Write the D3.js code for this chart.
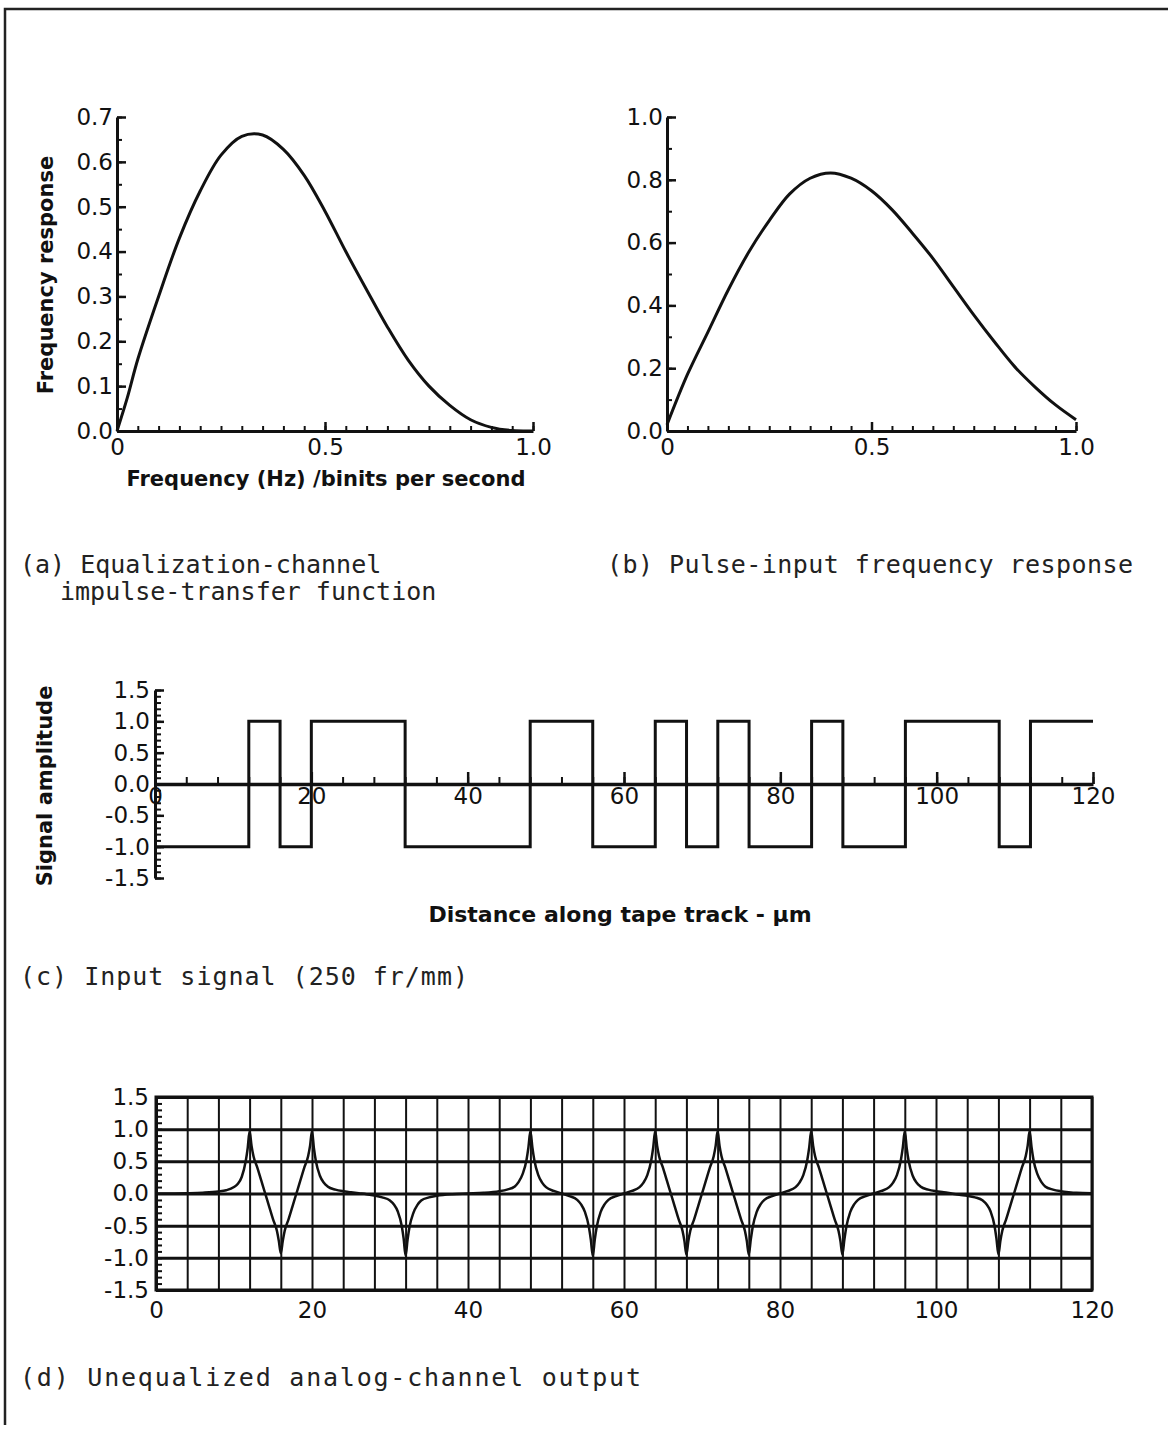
<!DOCTYPE html>
<html>
<head>
<meta charset="utf-8">
<script src="https://cdn.jsdelivr.net/npm/d3@7"></script>
<style>
  body { margin: 0; background: #fff; }
  .tick text { font-family: "DejaVu Sans", sans-serif; font-size: 23px; fill: #111; }
  .title { font-family: "DejaVu Sans", sans-serif; font-weight: bold; font-size: 21px; fill: #111; }
  .caption { font-family: "DejaVu Sans Mono", monospace; font-size: 25px; fill: #222; }
</style>
</head>
<body>
<svg id="chart" width="1168" height="1430"></svg>
<script>
// (a) equalization-channel impulse-transfer function
var freqA = [0, 0.025, 0.05, 0.1, 0.15, 0.2, 0.25, 0.3, 0.35, 0.4, 0.45, 0.5, 0.55,
             0.6, 0.65, 0.7, 0.75, 0.8, 0.85, 0.9, 0.95, 1.0];
var respA = [0, 0.075, 0.16, 0.3, 0.43, 0.535, 0.615, 0.657, 0.66, 0.628, 0.57, 0.49, 0.4,
             0.315, 0.232, 0.158, 0.1, 0.057, 0.025, 0.008, 0.001, 0];

// (b) pulse-input frequency response
var freqB = [0, 0.05, 0.1, 0.15, 0.2, 0.25, 0.3, 0.35, 0.4, 0.45, 0.5, 0.55, 0.6,
             0.65, 0.7, 0.75, 0.8, 0.85, 0.9, 0.95, 1.0];
var respB = [0.02, 0.18, 0.315, 0.45, 0.57, 0.67, 0.755, 0.805, 0.822, 0.805, 0.765, 0.705, 0.63,
             0.55, 0.46, 0.37, 0.285, 0.205, 0.14, 0.083, 0.036];

// (c) input signal, level changes along the track
var stepX = [0, 12, 16, 20, 32, 48, 56, 64, 68, 72, 76, 84, 88, 96, 108, 112, 120];
var stepY = [-1, 1, -1, 1, -1, 1, -1, 1, -1, 1, -1, 1, -1, 1, -1, 1, 1];

// (d) unequalized analog-channel output, [distance, amplitude]
var outPts = [
  [0,0],[4,0.005],[6,0.012],[8,0.03],[9,0.05],[10,0.1],[10.5,0.15],[11,0.26],[11.5,0.5],[11.75,0.7],[12,0.97],
  [12.25,0.74],[12.5,0.58],[13,0.4],[13.5,0.2],[14,0],[14.5,-0.2],[15,-0.4],[15.5,-0.58],[15.75,-0.74],[16,-0.93],
  [16.25,-0.74],[16.5,-0.58],[17,-0.4],[17.5,-0.2],[18,0],[18.5,0.2],[19,0.4],[19.5,0.58],[19.75,0.74],[20,0.97],
  [20.25,0.7],[20.5,0.5],[21,0.28],[21.5,0.17],[22,0.11],[23,0.06],[24,0.035],[25,0.02],[26,0.005],[27,-0.01],
  [28,-0.03],[29,-0.06],[30,-0.11],[30.5,-0.17],[31,-0.28],[31.5,-0.5],[31.75,-0.7],[32,-0.97],
  [32.25,-0.72],[32.5,-0.52],[33,-0.3],[33.5,-0.18],[34,-0.11],[35,-0.06],[36,-0.035],[38,-0.01],[40,0],
  [42,0.01],[44,0.035],[45,0.06],[46,0.11],[46.5,0.18],[47,0.3],[47.5,0.52],[47.75,0.72],[48,0.97],
  [48.25,0.72],[48.5,0.52],[49,0.29],[49.5,0.17],[50,0.1],[51,0.04],[52,0],[53,-0.04],[54,-0.1],[54.5,-0.17],
  [55,-0.29],[55.5,-0.52],[55.75,-0.72],[56,-0.97],
  [56.25,-0.72],[56.5,-0.52],[57,-0.29],[57.5,-0.17],[58,-0.1],[59,-0.04],[60,0],[61,0.04],[62,0.1],[62.5,0.17],
  [63,0.29],[63.5,0.52],[63.75,0.72],[64,0.97],
  [64.25,0.74],[64.5,0.58],[65,0.4],[65.5,0.2],[66,0],[66.5,-0.2],[67,-0.4],[67.5,-0.58],[67.75,-0.74],[68,-0.95],
  [68.25,-0.74],[68.5,-0.58],[69,-0.4],[69.5,-0.2],[70,0],[70.5,0.2],[71,0.4],[71.5,0.58],[71.75,0.74],[72,0.97],
  [72.25,0.74],[72.5,0.58],[73,0.4],[73.5,0.2],[74,0],[74.5,-0.2],[75,-0.4],[75.5,-0.58],[75.75,-0.74],[76,-0.95],
  [76.25,-0.72],[76.5,-0.52],[77,-0.29],[77.5,-0.17],[78,-0.1],[79,-0.04],[80,0],[81,0.04],[82,0.1],[82.5,0.17],
  [83,0.29],[83.5,0.52],[83.75,0.72],[84,0.97],
  [84.25,0.74],[84.5,0.58],[85,0.4],[85.5,0.2],[86,0],[86.5,-0.2],[87,-0.4],[87.5,-0.58],[87.75,-0.74],[88,-0.95],
  [88.25,-0.72],[88.5,-0.52],[89,-0.29],[89.5,-0.17],[90,-0.1],[91,-0.04],[92,0],[93,0.04],[94,0.1],[94.5,0.17],
  [95,0.29],[95.5,0.52],[95.75,0.72],[96,0.97],
  [96.25,0.7],[96.5,0.5],[97,0.28],[97.5,0.17],[98,0.11],[99,0.06],[100,0.035],[101,0.02],[102,0],[103,-0.02],
  [104,-0.035],[105,-0.06],[106,-0.11],[106.5,-0.17],[107,-0.28],[107.5,-0.5],[107.75,-0.7],[108,-0.95],
  [108.25,-0.74],[108.5,-0.58],[109,-0.4],[109.5,-0.2],[110,0],[110.5,0.2],[111,0.4],[111.5,0.58],[111.75,0.74],[112,0.97],
  [112.25,0.72],[112.5,0.52],[113,0.3],[113.5,0.18],[114,0.11],[115,0.06],[116,0.035],[117,0.02],[118,0.01],[120,0.005]
];

// tick values
var ticksA_y = [0, 0.1, 0.2, 0.3, 0.4, 0.5, 0.6, 0.7];
var ticksB_y = [0, 0.2, 0.4, 0.6, 0.8, 1.0];
var ticksFreq = [0, 0.5, 1.0];
var ticksDist = [0, 20, 40, 60, 80, 100, 120];
var ticksAmp = [-1.5, -1.0, -0.5, 0, 0.5, 1.0, 1.5];

var svg = d3.select('#chart');
var ink = '#111';

// page frame (top and left edges only)
svg.append('path')
  .attr('d', 'M5,1425 V9 H1168')
  .attr('fill', 'none').attr('stroke', '#222').attr('stroke-width', 2.5);

var fmtFreq = function(d){ return d === 0 ? '0' : d.toFixed(1); };
var fmt1 = function(d){ return d.toFixed(1); };

function styleAxis(g, w){
  g.select('.domain').attr('stroke', ink).attr('stroke-width', w || 3);
  g.selectAll('.tick line').attr('stroke', ink).attr('stroke-width', 2.5);
}

function minorAxis(g, axis, vals){
  g.call(axis.tickValues(vals).tickFormat('').tickSizeOuter(0));
  g.select('.domain').remove();
  g.selectAll('.tick line').attr('stroke', ink).attr('stroke-width', 2);
}

function caption(x, y, txt, len){
  var t = svg.append('text').attr('class', 'caption').attr('x', x).attr('y', y).text(txt);
  if (len) t.attr('textLength', len).attr('lengthAdjust', 'spacing');
}

// ---------- panel (a) ----------
var xa = d3.scaleLinear().domain([0, 1]).range([117, 533]);
var ya = d3.scaleLinear().domain([0, 0.7]).range([431, 117]);
var ga = svg.append('g');

ga.append('g').attr('transform', 'translate(0,431)')
  .call(minorAxis, d3.axisBottom(xa).tickSize(-5), d3.range(0, 1.001, 0.05));
ga.append('g').attr('transform', 'translate(0,431)')
  .call(d3.axisBottom(xa).tickValues(ticksFreq).tickFormat(fmtFreq).tickSize(-9).tickSizeOuter(0).tickPadding(8))
  .call(styleAxis);
ga.append('g').attr('transform', 'translate(117,0)')
  .call(minorAxis, d3.axisLeft(ya).tickSize(-5), d3.range(0, 0.701, 0.05));
ga.append('g').attr('transform', 'translate(117,0)')
  .call(d3.axisLeft(ya).tickValues(ticksA_y).tickFormat(fmt1).tickSize(-9).tickSizeOuter(0).tickPadding(4))
  .call(styleAxis);

ga.append('path')
  .datum(d3.zip(freqA, respA))
  .attr('fill', 'none').attr('stroke', ink).attr('stroke-width', 3)
  .attr('d', d3.line().x(function(d){ return xa(d[0]); }).y(function(d){ return ya(d[1]); })
    .curve(d3.curveCatmullRom.alpha(0.5)));

ga.append('text').attr('class', 'title')
  .attr('x', 326).attr('y', 486).attr('text-anchor', 'middle')
  .text('Frequency (Hz) /binits per second');
ga.append('text').attr('class', 'title')
  .attr('transform', 'translate(53,275) rotate(-90)').attr('text-anchor', 'middle')
  .text('Frequency response');

// ---------- panel (b) ----------
var xb = d3.scaleLinear().domain([0, 1]).range([667, 1076]);
var yb = d3.scaleLinear().domain([0, 1]).range([431, 117]);
var gb = svg.append('g');

gb.append('g').attr('transform', 'translate(0,431)')
  .call(minorAxis, d3.axisBottom(xb).tickSize(-5), d3.range(0, 1.001, 0.05));
gb.append('g').attr('transform', 'translate(0,431)')
  .call(d3.axisBottom(xb).tickValues(ticksFreq).tickFormat(fmtFreq).tickSize(-9).tickSizeOuter(0).tickPadding(8))
  .call(styleAxis);
gb.append('g').attr('transform', 'translate(667,0)')
  .call(minorAxis, d3.axisLeft(yb).tickSize(-5), d3.range(0, 1.001, 0.1));
gb.append('g').attr('transform', 'translate(667,0)')
  .call(d3.axisLeft(yb).tickValues(ticksB_y).tickFormat(fmt1).tickSize(-9).tickSizeOuter(0).tickPadding(4))
  .call(styleAxis);

gb.append('path')
  .datum(d3.zip(freqB, respB))
  .attr('fill', 'none').attr('stroke', ink).attr('stroke-width', 3)
  .attr('d', d3.line().x(function(d){ return xb(d[0]); }).y(function(d){ return yb(d[1]); })
    .curve(d3.curveCatmullRom.alpha(0.5)));

// ---------- captions (a)(b) ----------
caption(20, 573, '(a) Equalization-channel');
caption(60, 600, 'impulse-transfer function');
caption(607, 573, '(b) Pulse-input frequency response', 526);

// ---------- panel (c) ----------
var xc = d3.scaleLinear().domain([0, 120]).range([155, 1093]);
var yc = d3.scaleLinear().domain([-1.5, 1.5]).range([878, 690]);
var gc = svg.append('g');

gc.append('g').attr('transform', 'translate(155,0)')
  .call(minorAxis, d3.axisLeft(yc).tickSize(-6), d3.range(-1.5, 1.501, 0.1));
gc.append('g').attr('transform', 'translate(155,0)')
  .call(d3.axisLeft(yc).tickValues(ticksAmp).tickFormat(fmt1).tickSize(-9).tickSizeOuter(0).tickPadding(5))
  .call(styleAxis);
gc.append('g').attr('transform', 'translate(0,' + yc(0) + ')')
  .call(minorAxis, d3.axisBottom(xc).tickSize(-7), d3.range(0, 121, 4));
gc.append('g').attr('transform', 'translate(0,' + yc(0) + ')')
  .call(d3.axisBottom(xc).tickValues(ticksDist).tickSize(-12).tickSizeOuter(0).tickPadding(4))
  .call(styleAxis, 3.5);

gc.append('path')
  .datum(d3.zip(stepX, stepY))
  .attr('fill', 'none').attr('stroke', ink).attr('stroke-width', 3)
  .attr('d', d3.line().x(function(d){ return xc(d[0]); }).y(function(d){ return yc(d[1]); })
    .curve(d3.curveStepAfter));

gc.append('text').attr('class', 'title')
  .attr('x', 620).attr('y', 922).attr('text-anchor', 'middle').style('font-size', '22px')
  .text('Distance along tape track - \u03bcm');
gc.append('text').attr('class', 'title')
  .attr('transform', 'translate(52,786) rotate(-90)').attr('text-anchor', 'middle')
  .text('Signal amplitude');

caption(20, 985, '(c) Input signal (250 fr/mm)', 448);

// ---------- panel (d) ----------
var xd = d3.scaleLinear().domain([0, 120]).range([156, 1092]);
var yd = d3.scaleLinear().domain([-1.5, 1.5]).range([1290, 1097]);
var gd = svg.append('g');

// grid
gd.append('g').attr('transform', 'translate(0,1290)')
  .call(d3.axisBottom(xd).tickValues(d3.range(0, 121, 4)).tickFormat('').tickSize(-193).tickSizeOuter(0))
  .call(function(g){
    g.select('.domain').remove();
    g.selectAll('.tick line').attr('stroke', ink).attr('stroke-width', 2);
  });
gd.append('g').attr('transform', 'translate(156,0)')
  .call(d3.axisLeft(yd).tickValues(ticksAmp).tickFormat('').tickSize(-936).tickSizeOuter(0))
  .call(function(g){
    g.select('.domain').remove();
    g.selectAll('.tick line').attr('stroke', ink).attr('stroke-width', 3);
  });
gd.append('g').attr('transform', 'translate(156,0)')
  .call(minorAxis, d3.axisLeft(yd).tickSize(-6), d3.range(-1.5, 1.501, 0.1));
gd.append('g').attr('transform', 'translate(156,0)')
  .call(d3.axisLeft(yd).tickValues(ticksAmp).tickFormat(fmt1).tickSize(0).tickSizeOuter(0).tickPadding(7))
  .call(styleAxis);
gd.append('g').attr('transform', 'translate(0,1290)')
  .call(d3.axisBottom(xd).tickValues(ticksDist).tickSize(0).tickSizeOuter(0).tickPadding(12))
  .call(styleAxis);
gd.append('rect')
  .attr('x', xd(0)).attr('y', yd(1.5)).attr('width', xd(120) - xd(0)).attr('height', yd(-1.5) - yd(1.5))
  .attr('fill', 'none').attr('stroke', ink).attr('stroke-width', 3);

gd.append('path')
  .datum(outPts)
  .attr('fill', 'none').attr('stroke', ink).attr('stroke-width', 2.5)
  .attr('d', d3.line().x(function(d){ return xd(d[0]); }).y(function(d){ return yd(d[1]); })
    .curve(d3.curveMonotoneX));

caption(20, 1386, '(d) Unequalized analog-channel output', 621);
</script>
</body>
</html>
